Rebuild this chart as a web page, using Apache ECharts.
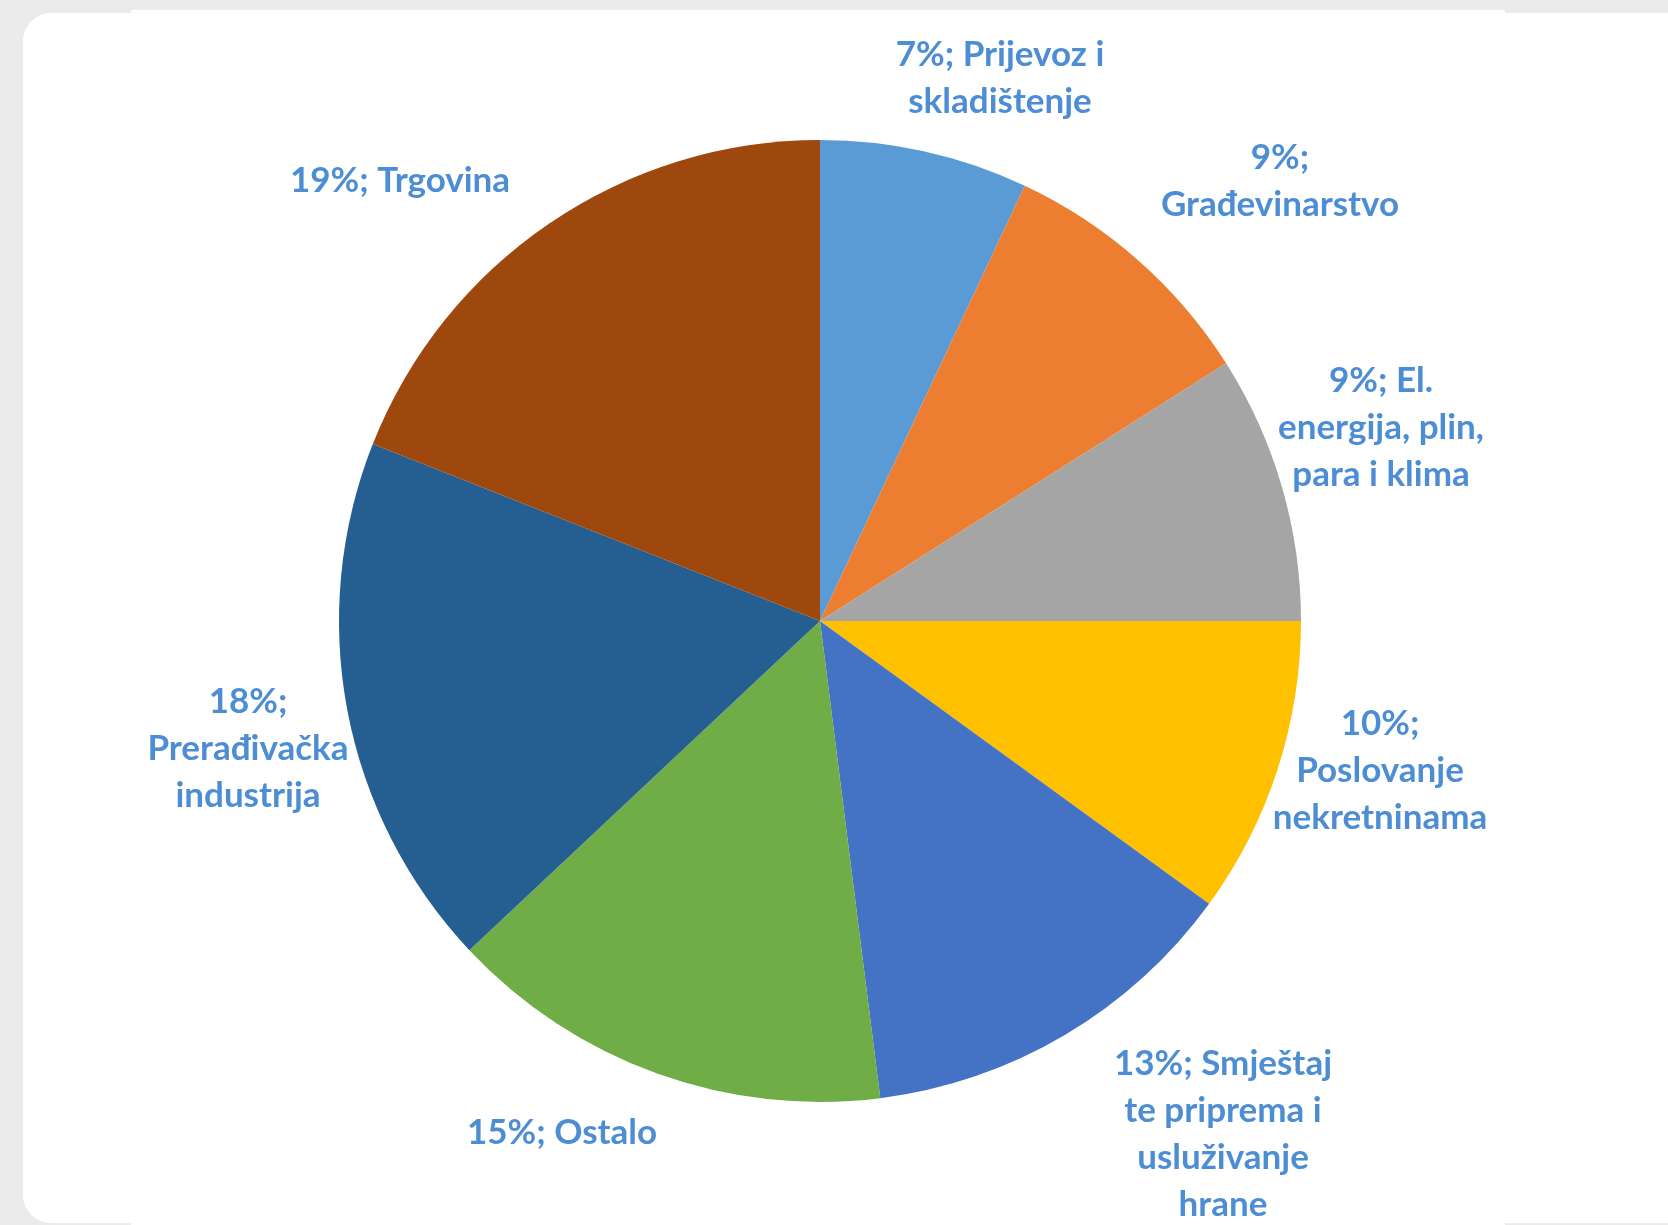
<!DOCTYPE html>
<html>
<head>
<meta charset="utf-8">
<title>Struktura po djelatnostima</title>
<script src="https://cdn.jsdelivr.net/npm/echarts@6/dist/echarts.min.js"></script>
<style>
  html, body { margin: 0; padding: 0; width: 1668px; height: 1225px; overflow: hidden; background: #ebebeb; }
  #card { position: absolute; left: 23px; top: 13px; width: 1700px; height: 1210px; background: #ffffff; border-radius: 28px; }
  #sheet { position: absolute; left: 131px; top: 10px; width: 1374px; height: 1215px; background: #ffffff; }
  #chart { position: absolute; left: 0; top: 0; width: 1668px; height: 1225px; }
</style>
</head>
<body>
<div id="card"></div>
<div id="sheet"></div>
<div id="chart"></div>
<script>
// Share of each activity (percent), clockwise from 12 o'clock
const sectors = [
  'Prijevoz i\nskladištenje',
  'Građevinarstvo',
  'El. energija, plin,\npara i klima',
  'Poslovanje\nnekretninama',
  'Smještaj te priprema i\nusluživanje hrane',
  'Ostalo',
  'Prerađivačka\nindustrija',
  'Trgovina'
];
const shares = [7, 9, 9, 10, 13, 15, 18, 19];

// Label text as laid out around the pie (value; name, wrapped)
const labelTexts = [
  '7%; Prijevoz i\nskladištenje',
  '9%;\nGrađevinarstvo',
  '9%; El.\nenergija, plin,\npara i klima',
  '10%;\nPoslovanje\nnekretninama',
  '13%; Smještaj\nte priprema i\nusluživanje\nhrane',
  '15%; Ostalo',
  '18%;\nPrerađivačka\nindustrija',
  '19%; Trgovina'
];

const sliceColors = ['#5b9bd5', '#ed7d31', '#a5a5a5', '#ffc000', '#4472c4', '#70ad47', '#255e91', '#9e480e'];

// Centre of each label block in page pixels
const labelCentres = [
  [1000, 78], [1280, 181], [1381, 428], [1380, 771],
  [1223, 1134], [562, 1133], [248, 749], [400, 181]
];

const chart = echarts.init(document.getElementById('chart'), null, { renderer: 'canvas' });

chart.setOption({
  backgroundColor: 'transparent',
  animation: false,
  series: [{
    type: 'pie',
    center: [820, 621],
    radius: 481,
    startAngle: 90,
    clockwise: true,
    avoidLabelOverlap: false,
    itemStyle: { borderWidth: 0 },
    label: {
      show: true,
      position: 'outside',
      formatter: p => labelTexts[p.dataIndex],
      fontFamily: 'Lato, "Open Sans", sans-serif',
      fontWeight: 'bold',
      fontSize: 35,
      lineHeight: 47,
      color: '#4d8dd3',
      align: 'center'
    },
    labelLine: { show: false },
    labelLayout: p => ({
      x: labelCentres[p.dataIndex][0],
      y: labelCentres[p.dataIndex][1],
      align: 'center',
      verticalAlign: 'middle',
      hideOverlap: false
    }),
    emphasis: { disabled: true },
    data: sectors.map((name, i) => ({
      name: name,
      value: shares[i],
      itemStyle: { color: sliceColors[i] }
    }))
  }]
});
</script>
</body>
</html>
